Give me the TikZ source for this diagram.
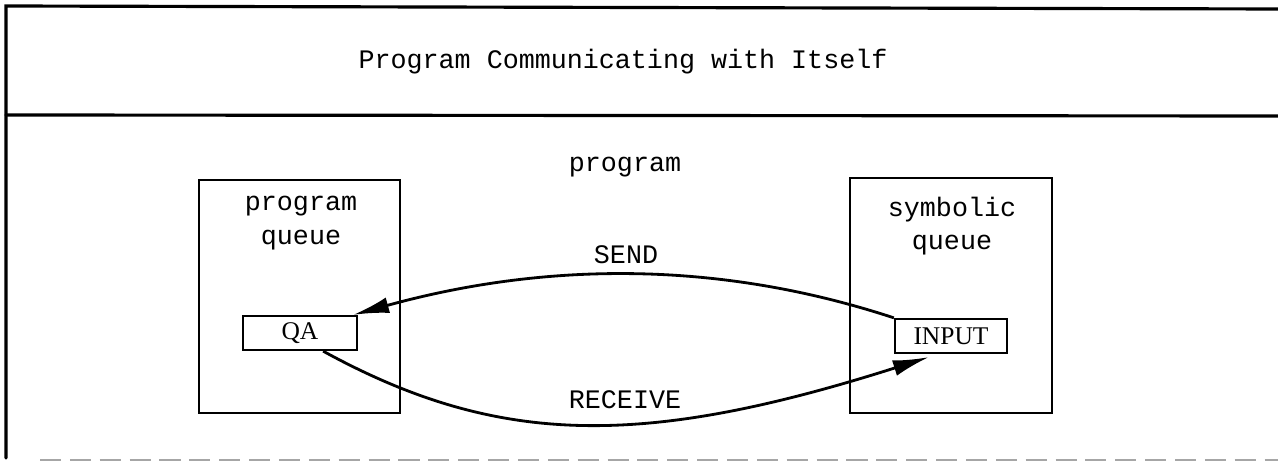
\documentclass[tikz,border=0pt]{standalone}
\usepackage{fontspec}
\setmainfont{Liberation Serif}
\setmonofont{Liberation Mono}
\usetikzlibrary{arrows.meta,calc}
\tikzset{
  frameline/.style={line width=1.8pt, line cap=round},
  queuebox/.style={draw, line width=1.3pt, minimum width=#1, inner sep=0pt},
  slotbox/.style={draw, line width=1.3pt, inner sep=0pt, font=\fontsize{14.5}{18}\selectfont\rmfamily},
  lbl/.style={inner sep=0pt, align=center, font=\fontsize{15.2}{19}\selectfont\ttfamily},
  flow/.style={line width=1.6pt, -{Latex[length=0.72cm,width=0.32cm]}},
}
\begin{document}
\begin{tikzpicture}[x=0.02cm, y=-0.02cm]
  \useasboundingbox (0,0) rectangle (1278,462);

  % outer frame: left side, top edge, title separator
  \coordinate (tl) at (6,6);
  \coordinate (tr) at (1278,9);
  \coordinate (ml) at (6,115);
  \coordinate (mr) at (1278,116);
  \coordinate (bl) at (6,458);
  \draw[frameline] (tr) -- (tl) -- (bl);
  \draw[frameline] (ml) -- (mr);
  \coordinate (dl) at (40,460);
  \coordinate (dr) at (1278,460);
  \draw[gray!70, line width=1pt, dash pattern=on 12pt off 5pt] (dl) -- (dr);

  \node[lbl] (title) at (623,62) {Program Communicating with Itself};
  \node[lbl] (prog) at (625,167) {program};

  % the two queues
  \node[queuebox=4.02cm, minimum height=4.66cm] (pq) at (299.5,296.5) {};
  \node[queuebox=4.04cm, minimum height=4.70cm] (sq) at (951,295.5) {};
  \node[lbl] (pqlbl) at (301,223) {program\\queue};
  \node[lbl] (sqlbl) at (952,226) {symbolic\\queue};

  \node[slotbox, minimum width=2.28cm, minimum height=0.68cm] (qa) at (300,333) {QA};
  \node[slotbox, minimum width=2.24cm, minimum height=0.68cm] (input) at (951,336) {INPUT};

  % message paths
  \draw[flow] (input.north west) .. controls (721,261) and (548,261) .. ([xshift=-0.1cm]qa.north east);
  \draw[flow] ([xshift=-0.7cm]qa.south east) .. controls (498,447) and (643,448) .. ([xshift=0.7cm,yshift=-0.06cm]input.south west);

  \node[lbl] (send) at (626,255) {SEND};
  \node[lbl] (recv) at (625,400) {RECEIVE};
\end{tikzpicture}
\end{document}
